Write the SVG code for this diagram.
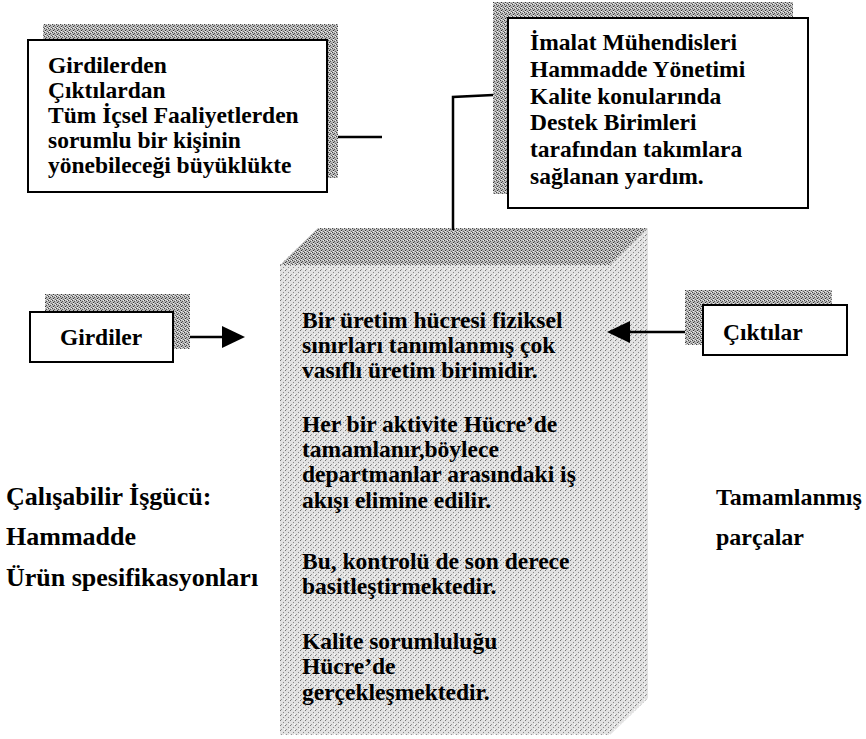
<svg xmlns="http://www.w3.org/2000/svg" width="866" height="739" viewBox="0 0 866 739" font-family="'Liberation Serif', 'Times New Roman', Times, serif">
<style>
text{font-family:'Liberation Serif','Times New Roman',Times,serif;font-weight:bold;font-size:23.5px;fill:#000}
.big{font-size:26px}
.rt{font-size:24px}
.box{fill:#fff;stroke:#000;stroke-width:2}
.ln{stroke:#000;stroke-width:2.5;fill:none}
</style>
<defs>
<pattern id="dark" width="4" height="4" patternUnits="userSpaceOnUse">
<rect width="4" height="4" fill="#b8b8b8"/>
<rect x="0" y="0" width="1" height="1" fill="#444"/>
<rect x="2" y="1" width="1" height="1" fill="#555"/>
<rect x="1" y="2" width="1" height="1" fill="#333"/>
<rect x="3" y="3" width="1" height="1" fill="#666"/>
<rect x="3" y="0" width="1" height="1" fill="#eee"/>
<rect x="1" y="3" width="1" height="1" fill="#eee"/>
</pattern>
<pattern id="light" width="5" height="5" patternUnits="userSpaceOnUse">
<rect width="5" height="5" fill="#e2e2e2"/>
<rect x="0" y="0" width="1" height="1" fill="#777"/>
<rect x="3" y="2" width="1" height="1" fill="#888"/>
<rect x="1" y="4" width="1" height="1" fill="#999"/>
<rect x="4" y="4" width="1" height="1" fill="#fff"/>
</pattern>
</defs>

<g id="cell">
<polygon points="280,265 318,228 648,228 610,265" fill="url(#dark)"/>
<polygon points="610,265 648,228 648,698 610,735" fill="url(#light)"/>
<rect x="280" y="265" width="330" height="470" fill="url(#light)"/>
<text x="302" y="328">Bir üretim hücresi fiziksel</text>
<text x="302" y="353">sınırları tanımlanmış çok</text>
<text x="302" y="378">vasıflı üretim birimidir.</text>
<text x="302" y="432">Her bir aktivite Hücre’de</text>
<text x="302" y="457">tamamlanır,böylece</text>
<text x="302" y="482">departmanlar arasındaki iş</text>
<text x="302" y="508">akışı elimine edilir.</text>
<text x="302" y="569">Bu, kontrolü de son derece</text>
<text x="302" y="594">basitleştirmektedir.</text>
<text x="302" y="649">Kalite sorumluluğu</text>
<text x="302" y="674">Hücre’de</text>
<text x="302" y="700">gerçekleşmektedir.</text>
</g>

<g id="scope">
<rect x="43" y="24" width="295" height="154" fill="url(#dark)"/>
<rect class="box" x="28" y="40" width="299" height="152"/>
<text x="48" y="73">Girdilerden</text>
<text x="48" y="98">Çıktılardan</text>
<text x="48" y="123">Tüm İçsel Faaliyetlerden</text>
<text x="48" y="148">sorumlu bir kişinin</text>
<text x="48" y="173">yönebileceği büyüklükte</text>
</g>

<g id="support">
<rect x="493" y="2" width="300" height="192" fill="url(#dark)"/>
<rect class="box" x="508" y="18" width="300" height="190"/>
<text x="530" y="50">İmalat Mühendisleri</text>
<text x="530" y="77">Hammadde Yönetimi</text>
<text x="530" y="104">Kalite konularında</text>
<text x="530" y="130">Destek Birimleri</text>
<text x="530" y="157">tarafından takımlara</text>
<text x="530" y="184">sağlanan yardım.</text>
</g>

<g id="inputs">
<rect x="45" y="294" width="145" height="55" fill="url(#dark)"/>
<rect class="box" x="30" y="312" width="143" height="50"/>
<text x="101" y="345" text-anchor="middle">Girdiler</text>
</g>

<g id="outputs">
<rect x="685" y="290" width="147" height="55" fill="url(#dark)"/>
<rect class="box" x="703" y="305" width="144" height="50"/>
<text x="723" y="340">Çıktılar</text>
</g>

<g id="input-list">
<text class="big" x="6" y="505">Çalışabilir İşgücü:</text>
<text class="big" x="6" y="545">Hammadde</text>
<text class="big" x="6" y="586">Ürün spesifikasyonları</text>
</g>

<g id="output-list">
<text class="rt" x="716" y="505">Tamamlanmış</text>
<text class="rt" x="716" y="545">parçalar</text>
</g>

<g id="connectors">
<line class="ln" x1="338" y1="137" x2="382" y2="137"/>
<polyline class="ln" points="493,95 453,97 453,230"/>
<line class="ln" x1="190" y1="337" x2="228" y2="337"/>
<path d="M222,326 L245,337 L222,348 Z" fill="#000"/>
<line class="ln" x1="685" y1="332" x2="625" y2="332"/>
<path d="M630,321 L607,332 L630,343 Z" fill="#000"/>
</g>
</svg>
